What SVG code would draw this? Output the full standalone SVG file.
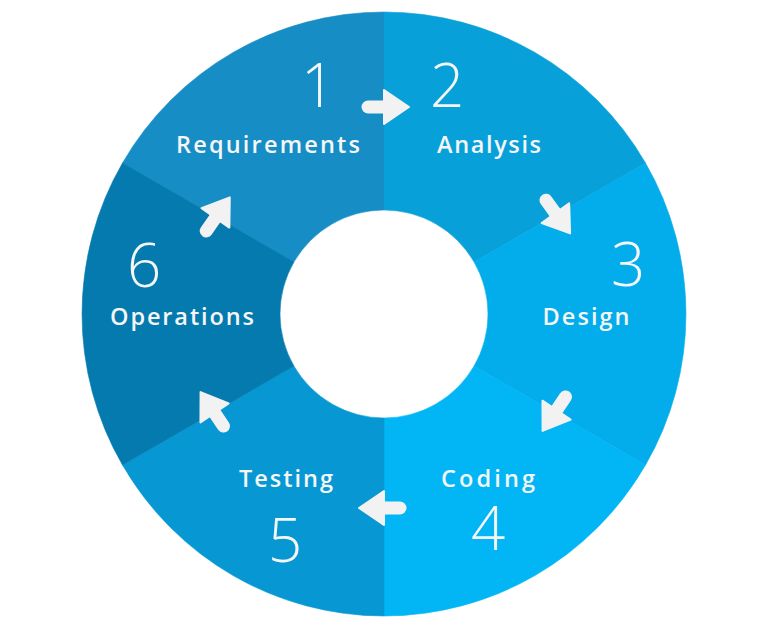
<svg xmlns="http://www.w3.org/2000/svg" width="768" height="644" viewBox="0 0 768 644">
<style>
.lbl{font-family:"Open Sans","Noto Sans","DejaVu Sans",sans-serif;font-size:23.5px;font-weight:600;fill:#f4f6f8;text-anchor:middle}
.num{font-family:"Open Sans","Noto Sans","DejaVu Sans",sans-serif;font-size:60px;font-weight:300;fill:#f4f6f8;text-anchor:middle}
</style>
<defs>
<g id="arrow">
<line x1="-17" y1="0" x2="2" y2="0" stroke="#f2f2f2" stroke-width="13" stroke-linecap="round"/>
<path d="M-1,-17 L24,0 L-1,17 Z" fill="#f2f2f2" stroke="#f2f2f2" stroke-width="2" stroke-linejoin="round"/>
</g>
</defs>
<rect width="768" height="644" fill="#ffffff"/>
<g id="ring">
<g id="node-requirements">
<path d="M122.5,163 A302,302 0 0 1 384,12 L384,210 A104,104 0 0 0 293.93,262 Z" fill="#168dc4" stroke="#168dc4" stroke-width="0.6"/>
<text class="num" x="318" y="107">1</text>
<text class="lbl" x="268" y="153" textLength="184">Requirements</text>
</g>
<g id="node-analysis">
<path d="M384,12 A302,302 0 0 1 645.5,163 L474.07,262 A104,104 0 0 0 384,210 Z" fill="#08a0d9" stroke="#08a0d9" stroke-width="0.6"/>
<text class="num" x="447" y="107">2</text>
<text class="lbl" x="489" y="153" textLength="104">Analysis</text>
</g>
<g id="node-design">
<path d="M645.5,163 A302,302 0 0 1 645.5,465 L474.07,366 A104,104 0 0 0 474.07,262 Z" fill="#03acea" stroke="#03acea" stroke-width="0.6"/>
<text class="num" x="628" y="286">3</text>
<text class="lbl" x="586" y="325" textLength="87">Design</text>
</g>
<g id="node-coding">
<path d="M645.5,465 A302,302 0 0 1 384,616 L384,418 A104,104 0 0 0 474.07,366 Z" fill="#02b6f5" stroke="#02b6f5" stroke-width="0.6"/>
<text class="lbl" x="488" y="487" textLength="94">Coding</text>
<text class="num" x="488" y="550">4</text>
</g>
<g id="node-testing">
<path d="M384,616 A302,302 0 0 1 122.5,465 L293.93,366 A104,104 0 0 0 384,418 Z" fill="#0798d3" stroke="#0798d3" stroke-width="0.6"/>
<text class="lbl" x="286" y="487" textLength="94">Testing</text>
<text class="num" x="285" y="562">5</text>
</g>
<g id="node-operations">
<path d="M122.5,465 A302,302 0 0 1 122.5,163 L293.93,262 A104,104 0 0 0 293.93,366 Z" fill="#047aae" stroke="#047aae" stroke-width="0.6"/>
<text class="num" x="144" y="287">6</text>
<text class="lbl" x="182" y="325" textLength="144">Operations</text>
</g>
</g>
<g id="connectors">
<use href="#arrow" transform="translate(385,107)"/>
<use href="#arrow" transform="translate(556,214) rotate(54)"/>
<use href="#arrow" transform="translate(556,411) rotate(124)"/>
<use href="#arrow" transform="translate(383,508) rotate(180)"/>
<use href="#arrow" transform="translate(214,412) rotate(236)"/>
<use href="#arrow" transform="translate(216,217) rotate(-55)"/>
</g>
</svg>
